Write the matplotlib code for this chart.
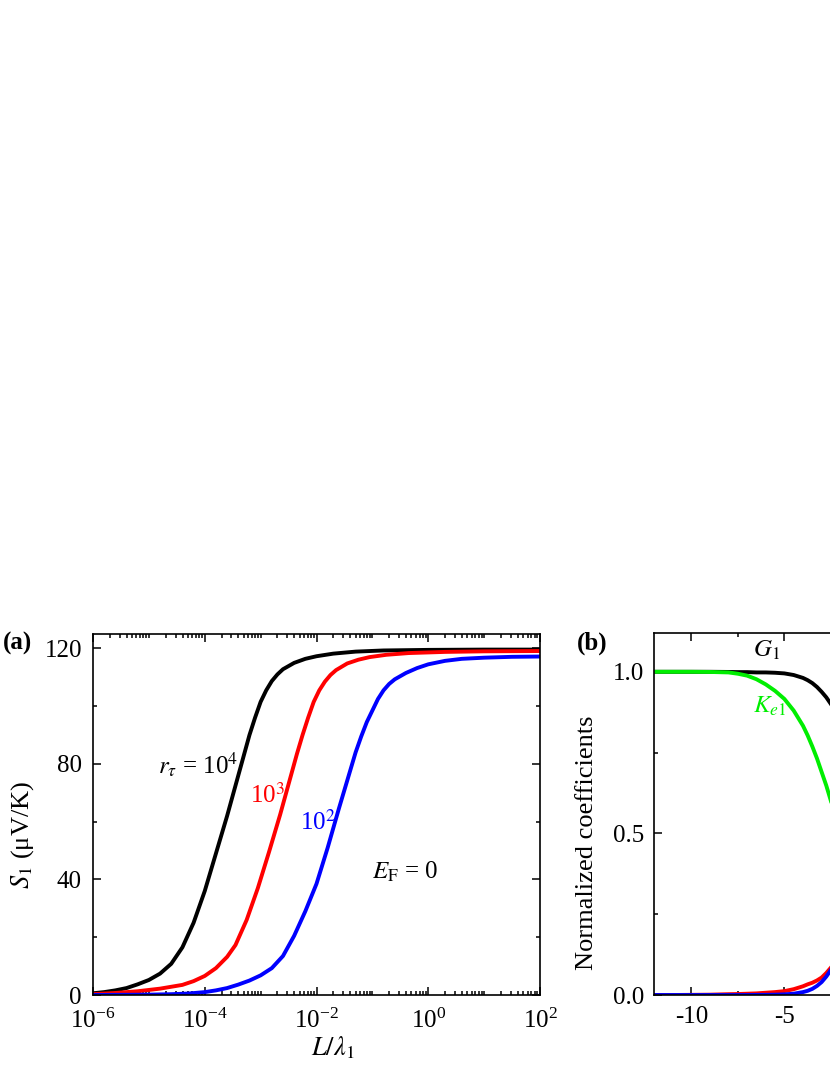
import numpy as np
import matplotlib
matplotlib.use("Agg")
import matplotlib.pyplot as plt
from matplotlib.ticker import MultipleLocator, FixedLocator, NullFormatter

plt.rcParams['font.family'] = ['Liberation Serif', 'DejaVu Serif']
plt.rcParams['mathtext.fontset'] = 'stix'
plt.rcParams['axes.unicode_minus'] = False

# ---- panel (a): S1 vs L/lambda1 (log10 of x) ----
black_logx = [-6.0, -5.8, -5.6, -5.4, -5.2, -5.0, -4.8, -4.6, -4.4, -4.2, -4.0, -3.8,
              -3.6, -3.4, -3.3, -3.2, -3.1, -3.0, -2.9, -2.8, -2.7, -2.6, -2.4, -2.2,
              -2.0, -1.7, -1.3, -0.8, 0.0, 1.0, 2.0]
black_S = [0.6, 1.0, 1.6, 2.4, 3.7, 5.2, 7.4, 10.8, 16.5, 25, 36, 49,
           62, 76, 83, 90, 96, 101.5, 105.5, 108.7, 111, 112.8, 115, 116.4,
           117.3, 118.2, 118.9, 119.3, 119.5, 119.6, 119.6]

red_logx = [-6.0, -5.6, -5.2, -4.8, -4.4, -4.2, -4.0, -3.8, -3.6, -3.45, -3.25, -3.05,
            -2.85, -2.65, -2.45, -2.35, -2.25, -2.15, -2.05, -1.95, -1.85, -1.75, -1.65,
            -1.45, -1.25, -1.05, -0.75, -0.35, 0.3, 1.0, 2.0]
red_S = [0.3, 0.7, 1.3, 2.2, 3.5, 4.8, 6.6, 9.3, 13.2, 17.3, 26, 37,
         49.5, 62.5, 76.5, 83.5, 90, 96, 101.5, 105.5, 108.5, 110.8, 112.5,
         114.8, 116.1, 117, 117.8, 118.4, 118.8, 119, 119.1]

blue_logx = [-6.0, -5.0, -4.6, -4.3, -4.0, -3.8, -3.6, -3.4, -3.2, -3.0, -2.8, -2.6,
             -2.4, -2.2, -2.0, -1.8, -1.6, -1.5, -1.4, -1.3, -1.2, -1.1, -1.0, -0.9,
             -0.8, -0.7, -0.6, -0.4, -0.2, 0.0, 0.3, 0.6, 1.0, 1.5, 2.0]
blue_S = [0.0, 0.12, 0.28, 0.5, 1.0, 1.6, 2.4, 3.6, 5.0, 6.8, 9.3, 13.5,
          20.5, 29, 38.5, 51, 64.5, 71, 77.5, 84, 89.5, 94.5, 98.5, 102.5,
          105.5, 107.7, 109.3, 111.5, 113.2, 114.5, 115.7, 116.4, 116.8, 117.1, 117.2]

a_xtick_exp = [-6, -4, -2, 0, 2]
a_yticks = [0, 40, 80, 120]

# ---- panel (b): normalized coefficients ----
eta = [-12, -11, -10, -9, -8, -7.5, -7, -6.5, -6, -5.5, -5, -4.5, -4, -3.75,
       -3.5, -3.25, -3, -2.75, -2.5]
G1 = [1.0, 1.0, 1.0, 1.0, 0.9995, 0.999, 0.999, 0.998, 0.998, 0.997, 0.995, 0.99,
      0.981, 0.974, 0.965, 0.953, 0.938, 0.921, 0.90]
Ke1 = [1.0, 1.0, 1.0, 0.9995, 0.998, 0.994, 0.988, 0.977, 0.961, 0.941, 0.916, 0.88,
       0.833, 0.803, 0.769, 0.732, 0.69, 0.648, 0.60]
red_b = [0.0, 0.0, 0.0005, 0.001, 0.0025, 0.003, 0.004, 0.005, 0.007, 0.009, 0.012,
         0.018, 0.027, 0.033, 0.038, 0.045, 0.054, 0.068, 0.085]
blue_b = [0.0, 0.0, 0.0, 0.0, 0.0, 0.0, 0.0, 0.0003, 0.0005, 0.001, 0.002, 0.004,
          0.009, 0.013, 0.019, 0.028, 0.04, 0.057, 0.078]

b_xticks = [-10, -5, 0, 5, 10]
b_yticks = [0.0, 0.5, 1.0]

W, H = 830, 1075
fig = plt.figure(figsize=(W / 100, H / 100), dpi=100)

lw = 2.8
fs = 18


def style(ax):
    ax.tick_params(which='both', direction='in', top=True, right=True, width=1.1,
                   labelsize=fs)
    ax.tick_params(which='major', length=5.5)
    ax.tick_params(which='minor', length=3)
    for s in ax.spines.values():
        s.set_linewidth(1.2)


# panel a
ax1 = fig.add_axes([93 / W, (H - 995) / H, 447 / W, 361 / H])
ax1.plot(np.power(10.0, black_logx), black_S, color='black', lw=lw)
ax1.plot(np.power(10.0, red_logx), red_S, color='#ff0000', lw=lw)
ax1.plot(np.power(10.0, blue_logx), blue_S, color='#0000ff', lw=lw)
ax1.set_xscale('log')
ax1.set_xlim(1e-6, 1e2)
ax1.set_ylim(0, 125)
ax1.set_xticks([10.0 ** e for e in a_xtick_exp],
               [r'$\mathdefault{10^{%d}}$' % e for e in a_xtick_exp])
# odd decades get a long tick without a label, plus the usual 2..9 minors
odd = [10.0 ** e for e in range(-5, 2, 2)]
subs = [m * 10.0 ** e for e in range(-6, 2) for m in range(2, 10)]
ax1.xaxis.set_minor_locator(FixedLocator(odd + subs))
ax1.xaxis.set_minor_formatter(NullFormatter())
ax1.set_yticks(a_yticks)
ax1.yaxis.set_minor_locator(MultipleLocator(20))
style(ax1)
ax1.tick_params(axis='x', which='major', pad=10)
ax1.tick_params(axis='y', which='major', pad=8)
ax1.set_ylabel(r'$S_1$ (μV/K)', fontsize=fs + 1)
ax1.yaxis.set_label_coords(-0.128, 0.443)
ax1.set_xlabel(r'$L/\lambda_1$', fontsize=fs + 1)
ax1.xaxis.set_label_coords(0.537, -0.108)

ax1.text(0.145, 0.637, r'$r_{\tau}$ = 10$^4$', transform=ax1.transAxes,
         fontsize=fs, ha='left', va='center')
ax1.text(0.351, 0.554, r'10$^3$', transform=ax1.transAxes, color='#ff0000',
         fontsize=fs, ha='left', va='center')
ax1.text(0.463, 0.479, r'10$^2$', transform=ax1.transAxes, color='#0000ff',
         fontsize=fs, ha='left', va='center')
ax1.text(0.624, 0.341, r'$E_{\mathrm{F}}$ = 0', transform=ax1.transAxes,
         fontsize=fs, ha='left', va='center')

# panel b (runs past the right edge of the picture, as in the original)
ax2 = fig.add_axes([654 / W, (H - 995) / H, 447 / W, 362 / H])
ax2.plot(eta, G1, color='black', lw=lw)
ax2.plot(eta, Ke1, color='#00ee00', lw=lw)
ax2.plot(eta, red_b, color='#ff0000', lw=lw)
ax2.plot(eta, blue_b, color='#0000ff', lw=lw)
ax2.set_xlim(-12, 12)
ax2.set_ylim(0, 1.12)
ax2.set_xticks(b_xticks)
ax2.xaxis.set_minor_locator(MultipleLocator(2.5))
ax2.set_yticks(b_yticks)
ax2.yaxis.set_minor_locator(MultipleLocator(0.25))
style(ax2)
ax2.tick_params(axis='x', which='major', pad=8)
ax2.tick_params(axis='y', which='major', pad=7)
ax2.set_ylabel('Normalized coefficients', fontsize=fs + 1)
ax2.yaxis.set_label_coords(-0.125, 0.42)
ax2.text(0.2215, 0.953, r'$G_1$', transform=ax2.transAxes, fontsize=fs,
         ha='left', va='center')
ax2.text(0.2215, 0.796, r'$K_{e\mathrm{1}}$', transform=ax2.transAxes,
         fontsize=fs, color='#00ee00', ha='left', va='center')

fig.text(3 / W, 1 - 643 / H, '(a)', fontsize=fs, fontweight='bold', va='center')
fig.text(577 / W, 1 - 643 / H, '(b)', fontsize=fs, fontweight='bold', va='center')

fig.savefig('out.png', dpi=100)
